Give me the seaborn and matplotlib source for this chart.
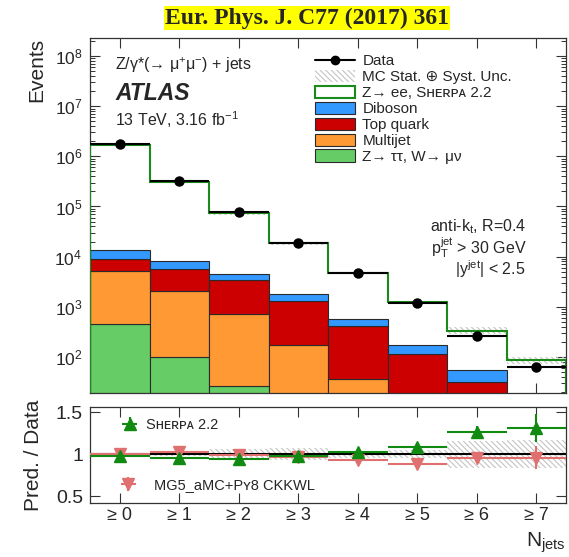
import numpy as np
import pandas as pd
import matplotlib
matplotlib.use("Agg")
import matplotlib.pyplot as plt
import seaborn as sns
from matplotlib.patches import Patch
from matplotlib.lines import Line2D
from matplotlib.ticker import LogLocator, NullLocator, NullFormatter, FixedLocator

# ---------------- data ----------------
njets = [0, 1, 2, 3, 4, 5, 6, 7]
tick_labels = ["≥ 0", "≥ 1", "≥ 2", "≥ 3", "≥ 4", "≥ 5", "≥ 6", "≥ 7"]

data = [1.74e6, 3.2e5, 7.7e4, 1.87e4, 4.7e3, 1.17e3, 2.6e2, 64]
sherpa_total = [1.72e6, 3.07e5, 7.3e4, 1.83e4, 4.75e3, 1.26e3, 3.35e2, 86]
mc_unc = [0.01, 0.02, 0.06, 0.07, 0.04, 0.05, 0.16, 0.17]

diboson = [4500, 2500, 1200, 470, 150, 55, 23, 8]
top_quark = [3800, 3500, 2690, 1126, 374, 110, 30, 8]
multijet = [4650, 2000, 684, 166, 34, 5, 1, 0.3]
ztautau_wmunu = [450, 100, 26, 8, 2, 0.5, 0.1, 0.05]

sherpa_ratio = [0.98, 0.96, 0.94, 0.98, 1.02, 1.08, 1.26, 1.31]
sherpa_err = [0.01, 0.01, 0.01, 0.02, 0.02, 0.03, 0.07, 0.17]
mg5_ratio = [1.00, 1.02, 0.99, 0.97, 0.93, 0.88, 0.96, 0.96]
mg5_err = [0.04, 0.05, 0.03, 0.02, 0.03, 0.03, 0.04, 0.14]

proc_names = ["Diboson", "Top quark", "Multijet", "Z→ ττ, W→ μν"]
proc_colors = ["#3399ff", "#cc0000", "#ff9933", "#66cc66"]

# ---------------- style ----------------
sns.set_style("ticks")
plt.rcParams["font.family"] = ["Liberation Sans", "DejaVu Sans"]
plt.rcParams["mathtext.fontset"] = "custom"
plt.rcParams["mathtext.rm"] = "Liberation Sans"
plt.rcParams["mathtext.it"] = "Liberation Sans:italic"
plt.rcParams["mathtext.bf"] = "Liberation Sans:bold"
plt.rcParams["hatch.linewidth"] = 0.8
plt.rcParams["axes.linewidth"] = 0.9
plt.rcParams["axes.edgecolor"] = "#333333"

W, H = 569, 557
fig = plt.figure(figsize=(W / 100, H / 100), dpi=100)
ax1 = fig.add_axes([90 / W, 1 - 393 / H, 476 / W, (393 - 38) / H])
ax2 = fig.add_axes([90 / W, 1 - 503 / H, 476 / W, (503 - 407) / H])

edges = np.arange(-0.5, 8.0, 1.0)
hatch_col = "#c4c4c4"
hatch_pat = "\\\\\\\\\\\\"

# ---------------- upper panel ----------------
ax1.set_yscale("log")
rows = []
for name, vals in zip(proc_names, [diboson, top_quark, multijet, ztautau_wmunu]):
    for n, v in zip(njets, vals):
        rows.append({"nj": n, "val": v, "proc": name})
df = pd.DataFrame(rows)

sns.histplot(data=df, x="nj", weights="val", hue="proc", hue_order=proc_names,
             palette=dict(zip(proc_names, proc_colors)), multiple="stack",
             discrete=True, shrink=1, element="bars", edgecolor="#2a2a2a",
             linewidth=0.8, alpha=1, legend=False, ax=ax1)

tot = np.array(sherpa_total)
unc = np.array(mc_unc)
ax1.stairs(tot * (1 + unc), edges, baseline=tot * (1 - unc), fill=True,
           hatch=hatch_pat, facecolor="none", edgecolor=hatch_col,
           linewidth=0, zorder=3)
ax1.stairs(tot, edges, color="#1a8a1a", linewidth=1.5, zorder=4)
ax1.errorbar(njets, data, xerr=0.5, fmt="o", color="black", ms=6.5,
             elinewidth=1.5, capsize=0, zorder=5)

ax1.set_xlim(-0.5, 7.5)
ax1.set_ylim(19, 2.3e8)
ax1.set_xticks(njets)
ax1.set_xticklabels([])
ax1.xaxis.set_minor_locator(NullLocator())
ax1.yaxis.set_major_locator(LogLocator(base=10, numticks=20))
ax1.yaxis.set_minor_locator(LogLocator(base=10, subs=np.arange(2, 10), numticks=20))
ax1.yaxis.set_minor_formatter(NullFormatter())
ax1.set_xlabel("")
ax1.set_ylabel("Events", fontsize=15, loc="top")
ax1.yaxis.set_label_coords(-0.092, 1.0)

# texts
ax1.text(0.0525, 0.924, r"Z/γ*(→ μ$^{+}$μ$^{-}$) + jets", transform=ax1.transAxes,
         fontsize=11.5, va="center", ha="left")
ax1.text(0.0525, 0.845, "ATLAS", transform=ax1.transAxes, fontsize=16.5,
         fontweight="bold", fontstyle="italic", va="center", ha="left")
ax1.text(0.0525, 0.769, r"13 TeV, 3.16 fb$^{-1}$", transform=ax1.transAxes,
         fontsize=11.5, va="center", ha="left")
ax1.text(0.918, 0.4676, r"anti-k$_{\mathregular{t}}$, R=0.4", transform=ax1.transAxes,
         fontsize=11.5, va="center", ha="right")
ax1.text(0.918, 0.41, r"p$_{\mathregular{T}}^{\mathregular{jet}}$ > 30 GeV",
         transform=ax1.transAxes, fontsize=11.5, va="center", ha="right")
ax1.text(0.914, 0.349, r"|y$^{\mathregular{jet}}$| < 2.5", transform=ax1.transAxes,
         fontsize=11.5, va="center", ha="right")

# legend
handles = [
    Line2D([], [], color="black", marker="o", ms=6, lw=1.5),
    Patch(facecolor="none", edgecolor=hatch_col, hatch=hatch_pat, linewidth=0),
    Patch(facecolor="white", edgecolor="#1a8a1a", linewidth=1.5),
] + [Patch(facecolor=c, edgecolor="#2a2a2a", linewidth=0.8) for c in proc_colors]
labels = ["Data", "MC Stat. ⊕ Syst. Unc.", "Z→ ee, Sʜᴇʀᴘᴀ 2.2"] + proc_names
fig.legend(handles, labels, loc="upper left", bbox_to_anchor=(315 / W, 1 - 54 / H),
           frameon=False, borderpad=0, borderaxespad=0, fontsize=11,
           handlelength=2.6, handleheight=0.85, handletextpad=0.5, labelspacing=0.1)

# ---------------- lower panel ----------------
ax2.stairs(1 + unc, edges, baseline=1 - unc, fill=True, hatch=hatch_pat,
           facecolor="none", edgecolor=hatch_col, linewidth=0, zorder=1)
ax2.axhline(1.0, color="black", lw=1.5, zorder=2)
e_sh = ax2.errorbar(njets, sherpa_ratio, xerr=0.5, yerr=sherpa_err, fmt="^",
                    color="#108a10", ms=8, elinewidth=1.5, capsize=0, zorder=4)
e_mg = ax2.errorbar(njets, mg5_ratio, xerr=0.5, yerr=mg5_err, fmt="v",
                    color="#e07070", ms=8, elinewidth=1.5, capsize=0, zorder=3)

ax2.set_xlim(-0.5, 7.5)
ax2.set_ylim(0.42, 1.56)
ax2.set_xticks(njets)
ax2.set_xticklabels(tick_labels, fontsize=13)
ax2.xaxis.set_minor_locator(NullLocator())
ax2.yaxis.set_major_locator(FixedLocator([0.5, 1.0, 1.5]))
ax2.set_yticklabels(["0.5", "1", "1.5"], fontsize=14)
ax2.yaxis.set_minor_locator(NullLocator())
ax2.set_ylabel("Pred. / Data", fontsize=15)
ax2.yaxis.set_label_coords(-0.098, 0.5)
ax2.set_xlabel(r"N$_{\mathregular{jets}}$", fontsize=15, loc="right")
ax2.xaxis.set_label_coords(1.0, -0.29)

leg_a = ax2.legend([e_sh], ["Sʜᴇʀᴘᴀ 2.2"], loc="center left",
                   bbox_to_anchor=(0.059, 0.8125), frameon=False, borderpad=0,
                   borderaxespad=0, fontsize=10.5, handlelength=1.6,
                   handletextpad=0.3)
ax2.add_artist(leg_a)
ax2.legend([e_mg], ["MG5_aMC+Pʏ8 CKKWL"], loc="center left",
           bbox_to_anchor=(0.042, 0.1875), frameon=False, borderpad=0,
           borderaxespad=0, fontsize=10.5, handlelength=2.5, handletextpad=0.5)

for ax in (ax1, ax2):
    ax.tick_params(which="both", direction="in", top=True, right=True,
                   color="#333333")
    ax.tick_params(which="major", length=7, width=0.8)
    ax.tick_params(which="minor", length=3.5, width=0.7)
ax1.tick_params(axis="y", which="major", labelsize=12.5, pad=5.5)
ax2.tick_params(axis="y", which="major", pad=5)
ax2.tick_params(axis="x", which="major", pad=3)

fig.text(307 / W, 1 - 18 / H, "Eur. Phys. J. C77 (2017) 361", ha="center",
         va="center", fontsize=17, fontweight="bold", family="Liberation Serif",
         bbox=dict(facecolor="yellow", edgecolor="none", pad=1))

fig.savefig("out.png", dpi=100)
